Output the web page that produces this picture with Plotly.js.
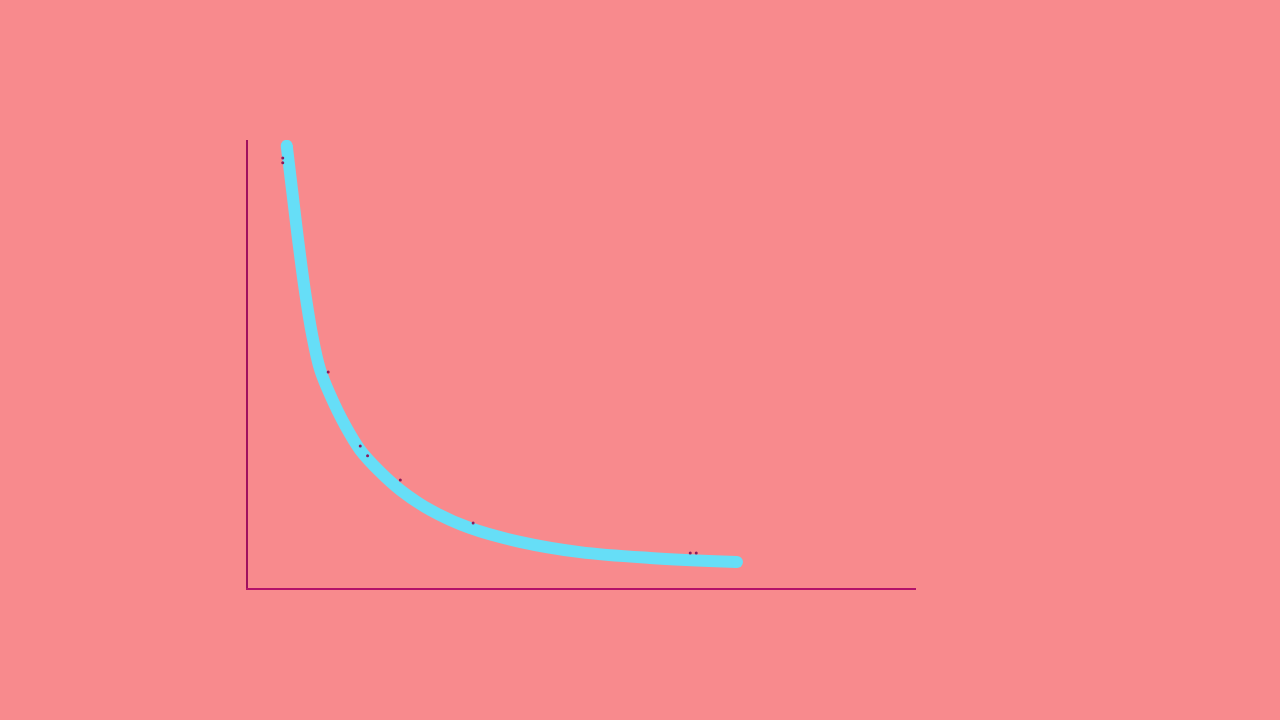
<!DOCTYPE html>
<html>
<head>
<meta charset="utf-8">
<script src="https://cdn.plot.ly/plotly-3.0.1.min.js"></script>
<style>
  html, body { margin: 0; padding: 0; background: #f88a8d; }
  #myDiv { width: 1280px; height: 720px; }
</style>
</head>
<body>
<div id="myDiv"></div>
<script>
// curve
var curveX = [0.58, 0.66, 0.75, 0.85, 0.96, 1.08, 1.23, 1.45, 1.68, 1.98, 2.28, 2.73, 3.32, 4.07, 4.97, 6.02, 7.32];
var curveY = [9.87, 8.88, 7.77, 6.65, 5.65, 4.87, 4.31, 3.64, 3.08, 2.59, 2.19, 1.74, 1.34, 1.03, 0.80, 0.67, 0.58];

// little pencil dots left on the curve
var dotX = [0.52, 0.52, 1.20, 1.68, 1.79, 2.28, 3.37, 6.62, 6.71];
var dotY = [9.60, 9.49, 4.82, 3.17, 2.95, 2.41, 1.45, 0.78, 0.78];

var curve = {
  x: curveX,
  y: curveY,
  type: 'scatter',
  mode: 'lines',
  line: { color: '#66def7', width: 12, shape: 'spline', smoothing: 1 },
  hoverinfo: 'skip'
};

// round ends of the stroke
var ends = {
  x: [curveX[0], curveX[curveX.length - 1]],
  y: [curveY[0], curveY[curveY.length - 1]],
  type: 'scatter',
  mode: 'markers',
  marker: { color: '#66def7', size: 12 },
  hoverinfo: 'skip'
};

var dots = {
  x: dotX,
  y: dotY,
  type: 'scatter',
  mode: 'markers',
  marker: { color: '#8a1a5c', size: 3 },
  hoverinfo: 'skip'
};

var layout = {
  width: 1280,
  height: 720,
  margin: { l: 248, r: 364, t: 140, b: 132 },
  paper_bgcolor: '#f88a8d',
  plot_bgcolor: '#f88a8d',
  showlegend: false,
  xaxis: {
    range: [0, 10],
    showline: true,
    linecolor: '#b3126a',
    linewidth: 2,
    showgrid: false,
    zeroline: false,
    showticklabels: false,
    ticks: ''
  },
  yaxis: {
    range: [0, 10],
    showline: true,
    linecolor: '#a0105e',
    linewidth: 2,
    showgrid: false,
    zeroline: false,
    showticklabels: false,
    ticks: ''
  }
};

Plotly.newPlot('myDiv', [curve, ends, dots], layout, { displayModeBar: false, staticPlot: true });
</script>
</body>
</html>
